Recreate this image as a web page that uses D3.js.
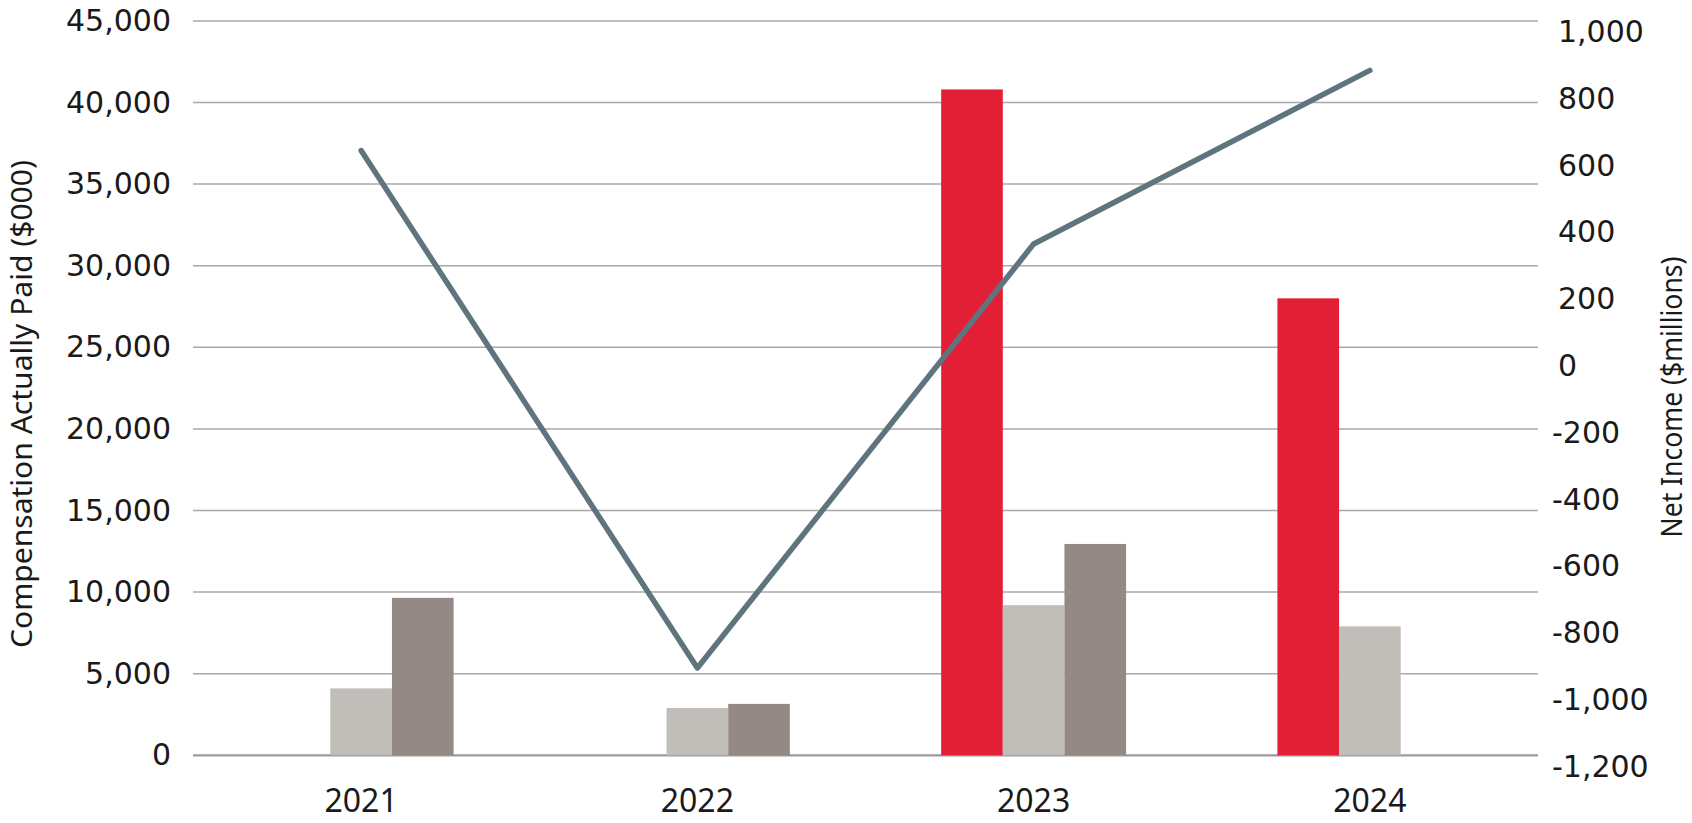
<!DOCTYPE html>
<html>
<head>
<meta charset="utf-8">
<script src="https://cdn.jsdelivr.net/npm/d3@7"></script>
<style>
  html, body { margin: 0; padding: 0; background: #ffffff; }
  svg { display: block; }
</style>
</head>
<body>
<svg id="chart" width="1692" height="823"></svg>
<script>
// ---- Data ----
const years = ["2021", "2022", "2023", "2024"];
const seriesNames = ["Current CEO", "Average Other NEOs", "Former CEO"];
const capCurrentCEO = [null, null, 40800, 28000];
const capOtherNEOs = [4100, 2900, 9200, 7900];
const capFormerCEO = [9650, 3150, 12950, null];
const netIncome = [645, -905, 365, 885];
const leftTicks = [0, 5000, 10000, 15000, 20000, 25000, 30000, 35000, 40000, 45000];
const rightTicks = [-1200, -1000, -800, -600, -400, -200, 0, 200, 400, 600, 800, 1000];
const leftTitle = "Compensation Actually Paid ($000)";
const rightTitle = "Net Income ($millions)";

const seriesColors = ["#e31f36", "#c1bdb9", "#948a85"];
const lineColor = "#5f757e";

// ---- Layout ----
const plotLeft = 193, plotRight = 1538, plotTop = 20.9, plotBottom = 755.3;

const svg = d3.select("#chart");
svg.append("rect").attr("width", 1692).attr("height", 823).attr("fill", "#ffffff");

const x0 = d3.scaleBand().domain(years).range([plotLeft, plotRight])
  .paddingInner(0.45).paddingOuter(0.225);
const x1 = d3.scaleBand().domain(seriesNames).range([0, x0.bandwidth()]);
const yL = d3.scaleLinear().domain([0, 45000]).range([plotBottom, plotTop]);
const yR = d3.scaleLinear().domain([-1200, 1000]).range([plotBottom + 11.2, plotTop + 11.1]);

// ---- Gridlines ----
svg.append("g").selectAll("line").data(leftTicks).join("line")
  .attr("x1", plotLeft).attr("x2", plotRight)
  .attr("y1", d => yL(d)).attr("y2", d => yL(d))
  .attr("stroke", d => d === 0 ? "#9b9b9b" : "#a8a8a8")
  .attr("stroke-width", d => d === 0 ? 2.2 : 1.5);

// ---- Bars ----
const seriesData = [capCurrentCEO, capOtherNEOs, capFormerCEO];
const bars = [];
years.forEach((yr, i) => {
  seriesNames.forEach((s, j) => {
    const v = seriesData[j][i];
    if (v !== null && v !== undefined) bars.push({ year: yr, series: s, value: v, color: seriesColors[j] });
  });
});
svg.append("g").selectAll("rect").data(bars).join("rect")
  .attr("x", d => x0(d.year) + x1(d.series))
  .attr("width", x1.bandwidth())
  .attr("y", d => yL(d.value))
  .attr("height", d => yL(0) - yL(d.value))
  .attr("fill", d => d.color);

// ---- Line ----
const lineData = years.map((yr, i) => ({ year: yr, value: netIncome[i] }));
const line = d3.line()
  .x(d => x0(d.year) + x0.bandwidth() / 2)
  .y(d => yR(d.value));
svg.append("path").datum(lineData)
  .attr("d", line)
  .attr("fill", "none")
  .attr("stroke", lineColor)
  .attr("stroke-width", 5.5)
  .attr("stroke-linecap", "round")
  .attr("stroke-linejoin", "round");

// ---- Axes ----
const fmt = d => d3.format(",")(d).replace("\u2212", "-");

const leftAxis = svg.append("g").attr("transform", `translate(${plotLeft},0)`)
  .call(d3.axisLeft(yL).tickValues(leftTicks).tickFormat(fmt).tickSize(0).tickPadding(22));
leftAxis.select(".domain").remove();
leftAxis.selectAll("text")
  .attr("font-family", "'DejaVu Sans', sans-serif")
  .attr("font-size", 30)
  .attr("fill", "#1a1a1a");

const rightAxis = svg.append("g").attr("transform", `translate(${plotRight},0)`)
  .call(d3.axisRight(yR).tickValues(rightTicks).tickFormat(fmt).tickSize(0).tickPadding(14));
rightAxis.select(".domain").remove();
rightAxis.selectAll("text")
  .attr("font-family", "'DejaVu Sans', sans-serif")
  .attr("font-size", 30)
  .attr("fill", "#1a1a1a")
  .attr("dx", d => d >= 0 ? 6 : 0);

const bottomAxis = svg.append("g").attr("transform", `translate(0,${plotBottom})`)
  .call(d3.axisBottom(x0).tickSize(0).tickPadding(34));
bottomAxis.select(".domain").remove();
bottomAxis.selectAll("text")
  .attr("font-family", "'Noto Sans', sans-serif")
  .attr("font-size", 32)
  .attr("fill", "#1a1a1a");

// ---- Axis titles ----
svg.append("text")
  .attr("transform", "translate(20,404) rotate(-90)")
  .attr("text-anchor", "middle")
  .attr("dominant-baseline", "central")
  .attr("font-family", "'Noto Sans', sans-serif")
  .attr("font-size", 29)
  .attr("fill", "#1a1a1a")
  .attr("textLength", 488)
  .attr("lengthAdjust", "spacingAndGlyphs")
  .text(leftTitle);

svg.append("text")
  .attr("transform", "translate(1670,397) rotate(-90)")
  .attr("text-anchor", "middle")
  .attr("dominant-baseline", "central")
  .attr("font-family", "'Noto Sans', sans-serif")
  .attr("font-size", 29)
  .attr("fill", "#1a1a1a")
  .attr("textLength", 281)
  .attr("lengthAdjust", "spacingAndGlyphs")
  .text(rightTitle);
</script>
</body>
</html>
